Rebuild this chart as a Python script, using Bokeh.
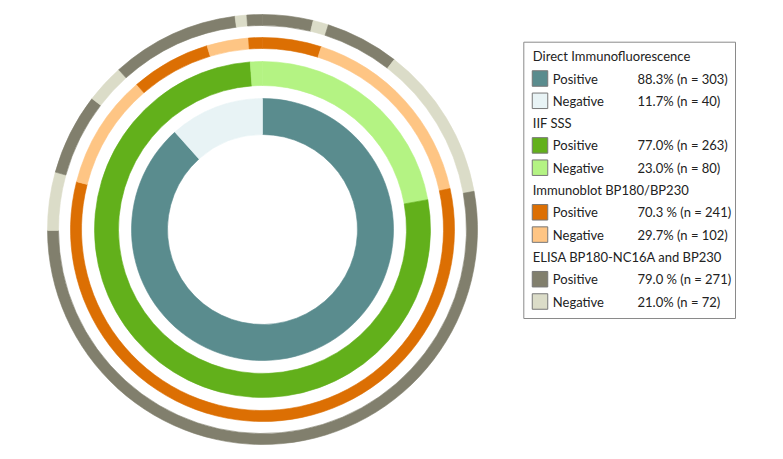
import numpy as np
from bokeh.plotting import figure
from bokeh.models import ColumnDataSource, Range1d
from bokeh.core.properties import value
from bokeh.embed import file_html
from bokeh.resources import INLINE

# ---- data ----
total = 343
groups = ["Direct Immunofluorescence", "IIF SSS", "Immunoblot BP180/BP230",
          "ELISA BP180-NC16A and BP230"]
pos_n = [303, 263, 241, 271]
neg_n = [40, 80, 102, 72]
pos_pct = ["88.3%", "77.0%", "70.3 %", "79.0 %"]
neg_pct = ["11.7%", "23.0%", "29.7%", "21.0%"]

# patient segments per ring, clockwise from 12 o'clock
dif_seg_n = [303, 40]
dif_seg_s = ["Positive", "Negative"]
iif_seg_n = [76, 263, 4]
iif_seg_s = ["Negative", "Positive", "Negative"]
ib_seg_n = [17, 57, 197, 33, 23, 12, 4]
ib_seg_s = ["Positive", "Negative", "Positive", "Negative", "Positive", "Negative", "Positive"]
el_seg_n = [13, 4, 19, 40, 181, 15, 21, 10, 33, 3, 4]
el_seg_s = ["Positive", "Negative", "Positive", "Negative", "Positive", "Negative",
            "Positive", "Negative", "Positive", "Negative", "Positive"]

# ---- style ----
pos_colors = ["#5A8C8E", "#62B01B", "#DC6F03", "#817F6D"]
neg_colors = ["#E8F3F5", "#B4F383", "#FEC584", "#DBDCC8"]
radii = [(95, 131), (144, 168), (181, 192), (204, 215)]
W, H = 775, 451
cx, cy = 262, H - 229

p = figure(width=W, height=H, output_backend="svg", toolbar_location=None,
           x_range=Range1d(0, W), y_range=Range1d(0, H), min_border=0)
p.axis.visible = False
p.grid.visible = False
p.outline_line_color = None
p.background_fill_color = "white"
p.border_fill_color = "white"

rings = [(dif_seg_n, dif_seg_s), (iif_seg_n, iif_seg_s),
         (ib_seg_n, ib_seg_s), (el_seg_n, el_seg_s)]
for gi, (segn, segs) in enumerate(rings):
    cum = np.concatenate([[0], np.cumsum(segn)])
    th1 = cum[:-1] / total * 2 * np.pi
    th2 = cum[1:] / total * 2 * np.pi
    cols = [pos_colors[gi] if s == "Positive" else neg_colors[gi] for s in segs]
    src = ColumnDataSource(dict(
        x=[cx] * len(segn), y=[cy] * len(segn),
        start=(np.pi / 2 - th2).tolist(), end=(np.pi / 2 - th1).tolist(),
        color=cols,
    ))
    p.annular_wedge(x="x", y="y", inner_radius=radii[gi][0], outer_radius=radii[gi][1],
                    start_angle="start", end_angle="end", fill_color="color",
                    line_color="color", line_width=0.6, source=src)

# ---- legend ----
bx0, bx1 = 523.3, 735
by_top, by_bot = 41.7, 318
p.quad(left=bx0, right=bx1, top=H - by_top, bottom=H - by_bot,
       fill_color="white", line_color="#8A8A8A", line_width=1)

row0, dy = 55.7, 22.3
hx, lx, vx = 532.3, 552.3, 637
sw_x = 539.5
hy, ht = [], []
sx, sy, sc = [], [], []
ly, lt, vt = [], [], []
r = 0
for gi, g in enumerate(groups):
    hy.append(H - (row0 + r * dy)); ht.append(g); r += 1
    for lab, pct, n, col in (("Positive", pos_pct[gi], pos_n[gi], pos_colors[gi]),
                             ("Negative", neg_pct[gi], neg_n[gi], neg_colors[gi])):
        yy = H - (row0 + r * dy)
        sx.append(sw_x); sy.append(yy); sc.append(col)
        ly.append(yy); lt.append(lab); vt.append(f"{pct} (n = {n})")
        r += 1

font = value("Lato")
fs = "13px"
p.text(x=[hx] * len(hy), y=hy, text=ht, text_font=font, text_font_size=fs,
       text_baseline="middle", text_color="#222222")
p.rect(x=sx, y=sy, width=15.5, height=15.5, fill_color=sc, line_color="#777777", line_width=1)
p.text(x=[lx] * len(ly), y=ly, text=lt, text_font=font, text_font_size=fs,
       text_baseline="middle", text_color="#222222")
p.text(x=[vx] * len(ly), y=ly, text=vt, text_font=font, text_font_size=fs,
       text_baseline="middle", text_color="#222222")

open("out.html", "w").write(file_html(p, INLINE))
